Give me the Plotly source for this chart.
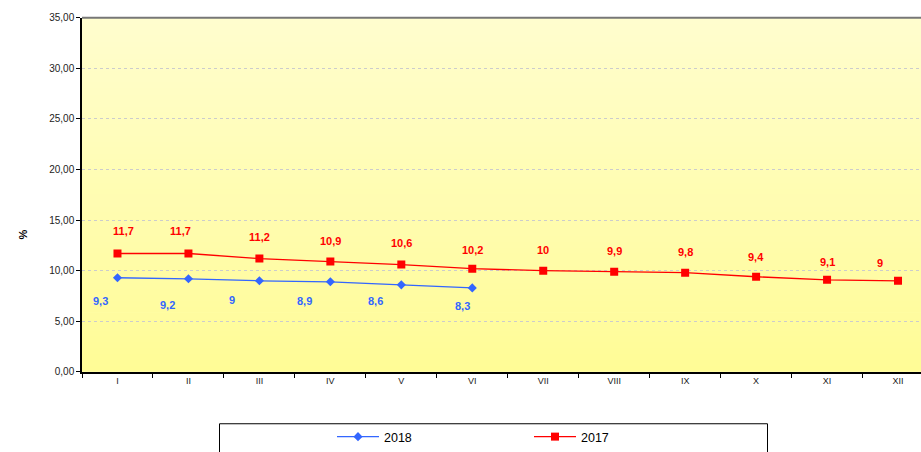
import plotly.graph_objects as go

months = ["I", "II", "III", "IV", "V", "VI", "VII", "VIII", "IX", "X", "XI", "XII"]
values_2018 = [9.3, 9.2, 9.0, 8.9, 8.6, 8.3]
values_2017 = [11.7, 11.7, 11.2, 10.9, 10.6, 10.2, 10.0, 9.9, 9.8, 9.4, 9.1, 9.0]
y_ticks = [0, 5, 10, 15, 20, 25, 30, 35]

# label offsets (px) -- styling only
off_2018 = [(-17, -23), (-21, -26), (-27, -19), (-26, -19), (-26, -16), (-10, -18)]
off_2017 = [(6, 22), (-8, 22), (0, 22), (0, 21), (0, 22), (0, 19),
            (0, 21), (0, 21), (0, 21), (0, 20), (0, 18), (-18, 18)]

BLUE = "#3366FF"
RED = "#FF0000"
FONT = "Liberation Sans, Arial, sans-serif"

W, H = 921, 452
PL, PR, PT, PB = 82, 933.5, 18, 376  # plot area in px


def fx(x):
    return x / W


def fy(y):
    return (H - y) / H


def fmt(v):
    return ("%g" % v).replace(".", ",")


fig = go.Figure()
fig.add_trace(go.Scatter(x=months[:len(values_2018)], y=values_2018, name="2018",
                         mode="lines+markers",
                         line=dict(color=BLUE, width=1.3),
                         marker=dict(symbol="diamond", size=7, color=BLUE)))
fig.add_trace(go.Scatter(x=months, y=values_2017, name="2017",
                         mode="lines+markers",
                         line=dict(color=RED, width=1.3),
                         marker=dict(symbol="square", size=8, color=RED)))

annotations = []
for m, v, (dx, dy) in zip(months, values_2018, off_2018):
    annotations.append(dict(x=m, y=v, text=fmt(v), showarrow=False, xshift=dx, yshift=dy,
                            font=dict(family=FONT, size=11, color=BLUE, weight="bold")))
for m, v, (dx, dy) in zip(months, values_2017, off_2017):
    annotations.append(dict(x=m, y=v, text=fmt(v), showarrow=False, xshift=dx, yshift=dy,
                            font=dict(family=FONT, size=11, color=RED, weight="bold")))
annotations.append(dict(xref="paper", yref="paper", x=fx(15), y=fy(237), text="<b>%</b>",
                        showarrow=False, textangle=-90,
                        font=dict(family=FONT, size=11, color="black")))

# gradient background strips
shapes = []
n = 60
top = (255, 253, 206)
bot = (255, 252, 150)
for i in range(n):
    t = i / (n - 1)
    c = tuple(round(bot[k] + (top[k] - bot[k]) * t) for k in range(3))
    shapes.append(dict(type="rect", xref="x domain", yref="y domain", layer="below",
                       x0=0, x1=1, y0=i / n, y1=(i + 1) / n + 0.002,
                       fillcolor="rgb(%d,%d,%d)" % c, line=dict(width=0)))
# top border
shapes.append(dict(type="line", xref="x domain", yref="y domain", x0=0, x1=1, y0=1, y1=1,
                   line=dict(color="#777777", width=2)))
# legend box
shapes.append(dict(type="rect", xref="paper", yref="paper",
                   x0=fx(219.5), x1=fx(767.5), y0=fy(428.5), y1=fy(470),
                   line=dict(color="black", width=1), fillcolor="rgba(0,0,0,0)"))

fig.update_layout(
    width=W, height=H, autosize=False,
    margin=dict(l=0, r=0, t=0, b=0),
    paper_bgcolor="white", plot_bgcolor="#FFFDCC",
    font=dict(family=FONT, color="#222222"),
    showlegend=True,
    legend=dict(orientation="h", x=fx(332), y=fy(442), xanchor="left", yanchor="middle",
                entrywidth=140, entrywidthmode="pixels",
                font=dict(family=FONT, size=12.5, color="black"),
                bgcolor="rgba(0,0,0,0)", itemwidth=42),
    annotations=annotations,
    shapes=shapes,
)
fig.update_xaxes(type="category", categoryorder="array", categoryarray=months,
                 domain=[fx(PL), 1.0],
                 range=[-0.5, 11.5 - (PR - W) / 71],
                 automargin=False,
                 tickson="boundaries", ticks="outside", ticklen=4, tickcolor="black",
                 showline=True, linecolor="black", linewidth=1.5,
                 showgrid=False, tickfont=dict(size=9, color="#222222"))
fig.update_yaxes(range=[0, 35], tickvals=y_ticks,
                 domain=[fy(PB), fy(PT)],
                 automargin=False,
                 ticktext=["%d,00" % v for v in y_ticks],
                 ticks="outside", ticklen=4, tickcolor="black",
                 showline=True, linecolor="black", linewidth=1.5,
                 showgrid=True, gridcolor="#CCCCCC", griddash="dot", gridwidth=1,
                 zeroline=False, tickfont=dict(size=10, color="#222222"))

fig.write_html("out.html",
               config=dict(displayModeBar=False, responsive=False),
               post_script="document.body.style.margin='0';document.body.style.overflow='hidden';")
